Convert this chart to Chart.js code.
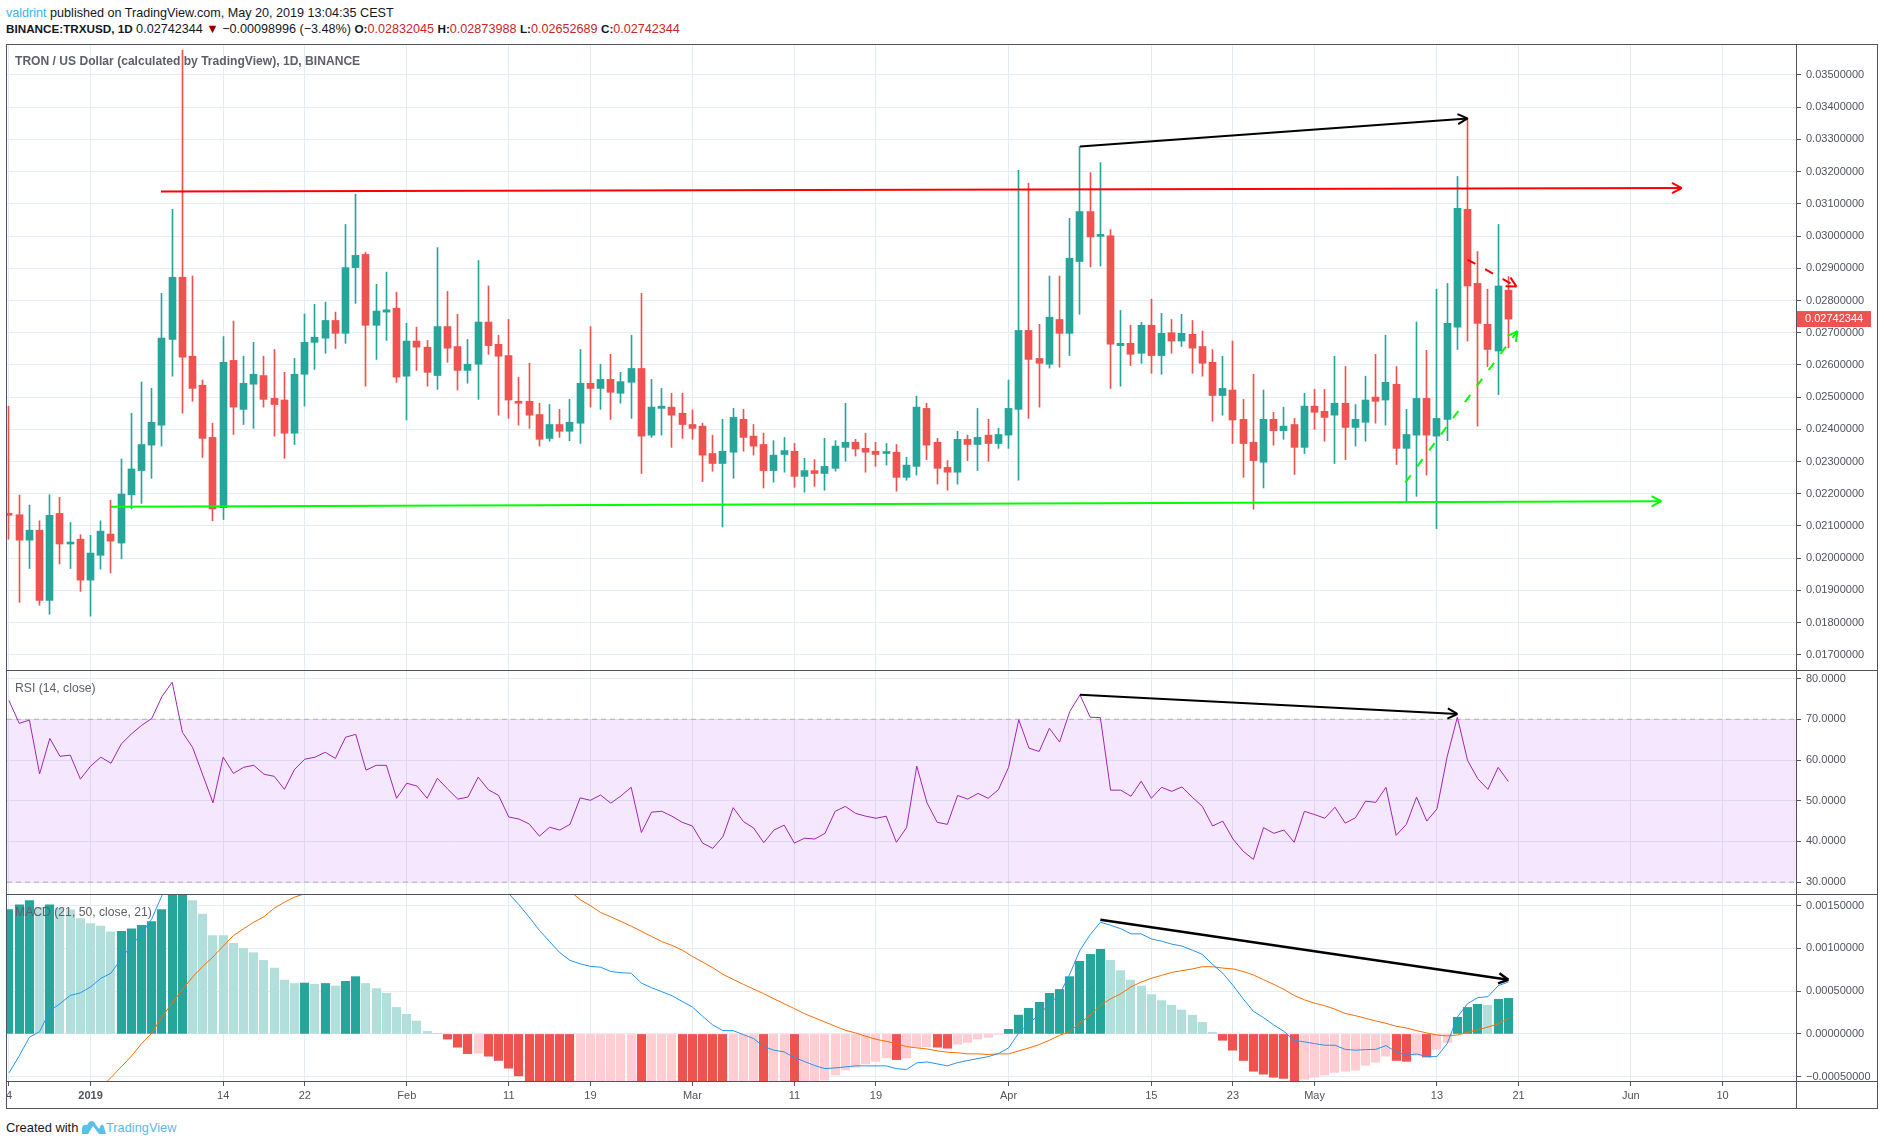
<!DOCTYPE html>
<html>
<head>
<meta charset="utf-8">
<title>TRXUSD</title>
<script src="https://cdn.jsdelivr.net/npm/chart.js"></script>
<style>
    html, body { margin: 0; background: #fff; }
    body { width: 1884px; height: 1145px; position: relative; overflow: hidden; font-family: 'Liberation Sans', Arial, sans-serif; }
    canvas { position: absolute; left: 0; }
    .line { position: absolute; background: #50535e; z-index: 3; }
    .text { position: absolute; white-space: pre; z-index: 4; }
    .head { left: 6px; font-size: 12.6px; color: #131722; }
    .up { color: #c62828; }
    .title { left: 15px; font-size: 12.1px; font-weight: bold; color: #5d606b; }
    .pane-title { left: 15px; font-size: 12.2px; color: #5d606b; }
    b { font-weight: bold; font-size: 11.7px; }
</style>
</head>
<body>
<div class="text head" style="top:6px"><span style="color:#39b4ee">valdrint</span> published on TradingView.com, May 20, 2019 13:04:35 CEST</div>
<div class="text head" style="top:22px"><b>BINANCE:TRXUSD, 1D</b> 0.02742344 <span style="color:#8b0000">▼</span> −0.00098996 (−3.48%) <b>O:</b><span class="up">0.02832045</span> <b>H:</b><span class="up">0.02873988</span> <b>L:</b><span class="up">0.02652689</span> <b>C:</b><span class="up">0.02742344</span></div>
<div class="text title" style="top:54px">TRON / US Dollar (calculated by TradingView), 1D, BINANCE</div>
<div class="text pane-title" style="top:681px">RSI (14, close)</div>
<div class="text pane-title" style="top:905px">MACD (21, 50, close, 21)</div>

<canvas id="priceChart" width="1877" height="625" style="top:45px"></canvas>
<canvas id="rsiChart" width="1877" height="224" style="top:670px"></canvas>
<canvas id="macdChart" width="1877" height="214" style="top:894px"></canvas>

<div class="line" style="left:6px;top:44px;width:1871px;height:1px"></div>
<div class="line" style="left:6px;top:670px;width:1871px;height:1px"></div>
<div class="line" style="left:6px;top:894px;width:1871px;height:1px"></div>
<div class="line" style="left:6px;top:1081px;width:1871px;height:1px"></div>
<div class="line" style="left:6px;top:1108px;width:1871px;height:1px"></div>
<div class="line" style="left:6px;top:44px;width:1px;height:1065px"></div>
<div class="line" style="left:1796px;top:44px;width:1px;height:1065px"></div>
<div class="line" style="left:1877px;top:44px;width:1px;height:1065px"></div>

<div class="text" style="left:6px;top:1120px;font-size:12.9px;color:#131722">Created with</div>
<svg style="position:absolute;left:82px;top:1119px" width="24" height="16" viewBox="0 0 24 16">
    <path d="M0 15 L0 9 Q1 5 5 6 Q7 2 10 2 Q12 2 14 6 L17 10 L19 6 Q21 5 22 8 L24 15 L17 15 L11 7 L6 15 Z" fill="#5bc0e8"/>
</svg>
<div class="text" style="left:106px;top:1120px;font-size:12.8px;color:#5bb9e4">TradingView</div>

<script>
// one candle per day, day 0 is 1 Jan 2019
const firstDay = -8;
const xTickDays = [-8, 0, 13, 21, 31, 41, 49, 59, 69, 77, 90, 104, 112, 120, 132, 140, 151, 160];
const xTickLabels = ['4', '2019', '14', '22', 'Feb', '11', '19', 'Mar', '11', '19', 'Apr', '15', '23', 'May', '13', '21', 'Jun', '10'];

const priceTicks = [0.035, 0.034, 0.033, 0.032, 0.031, 0.03, 0.029, 0.028, 0.027, 0.026, 0.025, 0.024, 0.023, 0.022, 0.021, 0.02, 0.019, 0.018, 0.017];
const rsiTicks = [80, 70, 60, 50, 40, 30];
const macdTicks = [0.0015, 0.001, 0.0005, 0, -0.0005];
const lastClose = 0.02742344;

const opens = [
    0.02138, 0.02135, 0.02056, 0.02087, 0.01869, 0.02139, 0.02044, 0.02059, 0.01932, 0.02009,
    0.02075, 0.02047, 0.02197, 0.02272, 0.02351, 0.02413, 0.02679, 0.02872, 0.02627, 0.02537,
    0.02375, 0.02157, 0.02614, 0.02462, 0.02540, 0.02567, 0.02496, 0.02491, 0.02388, 0.02571,
    0.02670, 0.02683, 0.02738, 0.02698, 0.02902, 0.02943, 0.02723, 0.02764, 0.02776, 0.02565,
    0.02674, 0.02655, 0.02567, 0.02719, 0.02657, 0.02583, 0.02602, 0.02733, 0.02664, 0.02629,
    0.02487, 0.02487, 0.02446, 0.02372, 0.02415, 0.02394, 0.02419, 0.02543, 0.02527, 0.02555,
    0.02512, 0.02546, 0.02589, 0.02382, 0.02465, 0.02469, 0.02450, 0.02415, 0.02410, 0.02325,
    0.02294, 0.02329, 0.02431, 0.02379, 0.02353, 0.02272, 0.02322, 0.02332, 0.02254, 0.02272,
    0.02263, 0.02279, 0.02344, 0.02360, 0.02341, 0.02332, 0.02325, 0.02329, 0.02251, 0.02285,
    0.02465, 0.02360, 0.02282, 0.02267, 0.02369, 0.02353, 0.02382, 0.02356, 0.02382, 0.02462,
    0.02707, 0.02620, 0.02602, 0.02741, 0.02698, 0.02921, 0.03076, 0.02999, 0.03001, 0.02660,
    0.02667, 0.02636, 0.02723, 0.02629, 0.02700, 0.02674, 0.02695, 0.02657, 0.02608, 0.02505,
    0.02522, 0.02431, 0.02360, 0.02298, 0.02431, 0.02396, 0.02415, 0.02344, 0.02472, 0.02456,
    0.02444, 0.02481, 0.02406, 0.02422, 0.02500, 0.02491, 0.02540, 0.02341, 0.02382, 0.02496,
    0.02379, 0.02431, 0.02717, 0.03083, 0.02853, 0.02726, 0.02643, 0.02832045
];
const highs = [
    0.02472, 0.02196, 0.02165, 0.02116, 0.02197, 0.02189, 0.02111, 0.02073, 0.02071, 0.02116,
    0.02180, 0.02308, 0.02450, 0.02547, 0.02527, 0.02822, 0.03083, 0.03577, 0.02876, 0.02553,
    0.02419, 0.02688, 0.02736, 0.02627, 0.02670, 0.02627, 0.02648, 0.02577, 0.02620, 0.02758,
    0.02788, 0.02795, 0.02764, 0.03036, 0.03130, 0.02950, 0.02850, 0.02888, 0.02826, 0.02729,
    0.02717, 0.02676, 0.02964, 0.02828, 0.02757, 0.02679, 0.02924, 0.02845, 0.02692, 0.02741,
    0.02562, 0.02605, 0.02481, 0.02477, 0.02462, 0.02493, 0.02648, 0.02719, 0.02602, 0.02633,
    0.02577, 0.02692, 0.02822, 0.02555, 0.02527, 0.02512, 0.02512, 0.02460, 0.02419, 0.02382,
    0.02431, 0.02465, 0.02462, 0.02415, 0.02388, 0.02365, 0.02375, 0.02356, 0.02310, 0.02306,
    0.02372, 0.02365, 0.02481, 0.02369, 0.02388, 0.02360, 0.02356, 0.02353, 0.02313, 0.02503,
    0.02481, 0.02372, 0.02303, 0.02394, 0.02382, 0.02465, 0.02431, 0.02403, 0.02553, 0.03204,
    0.03164, 0.02726, 0.02876, 0.02876, 0.03055, 0.03278, 0.03197, 0.03228, 0.03020, 0.02769,
    0.02723, 0.02732, 0.02804, 0.02760, 0.02741, 0.02757, 0.02738, 0.02705, 0.02648, 0.02627,
    0.02674, 0.02493, 0.02571, 0.02522, 0.02453, 0.02469, 0.02434, 0.02512, 0.02524, 0.02524,
    0.02627, 0.02595, 0.02477, 0.02565, 0.02633, 0.02692, 0.02595, 0.02462, 0.02733, 0.02645,
    0.02835, 0.02853, 0.03185, 0.03365, 0.02952, 0.02835, 0.03036, 0.02873988
];
const lows = [
    0.02059, 0.01863, 0.01968, 0.01854, 0.01826, 0.01982, 0.01968, 0.01897, 0.01820, 0.01966,
    0.01954, 0.01998, 0.02153, 0.02170, 0.02248, 0.02348, 0.02565, 0.02450, 0.02487, 0.02313,
    0.02116, 0.02120, 0.02384, 0.02415, 0.02403, 0.02469, 0.02379, 0.02310, 0.02353, 0.02472,
    0.02586, 0.02636, 0.02651, 0.02667, 0.02791, 0.02534, 0.02617, 0.02676, 0.02546, 0.02429,
    0.02583, 0.02534, 0.02524, 0.02608, 0.02522, 0.02543, 0.02493, 0.02633, 0.02444, 0.02434,
    0.02413, 0.02403, 0.02348, 0.02363, 0.02375, 0.02365, 0.02356, 0.02469, 0.02462, 0.02431,
    0.02481, 0.02434, 0.02263, 0.02375, 0.02382, 0.02344, 0.02372, 0.02369, 0.02238, 0.02270,
    0.02097, 0.02248, 0.02332, 0.02320, 0.02218, 0.02236, 0.02267, 0.02220, 0.02205, 0.02223,
    0.02211, 0.02270, 0.02301, 0.02317, 0.02267, 0.02285, 0.02289, 0.02208, 0.02242, 0.02258,
    0.02306, 0.02230, 0.02211, 0.02230, 0.02303, 0.02272, 0.02301, 0.02341, 0.02341, 0.02242,
    0.02434, 0.02469, 0.02590, 0.02593, 0.02629, 0.02757, 0.02904, 0.02907, 0.02527, 0.02534,
    0.02598, 0.02605, 0.02574, 0.02571, 0.02636, 0.02657, 0.02574, 0.02565, 0.02425, 0.02444,
    0.02356, 0.02251, 0.02152, 0.02218, 0.02351, 0.02369, 0.02260, 0.02325, 0.02400, 0.02363,
    0.02294, 0.02306, 0.02348, 0.02363, 0.02419, 0.02413, 0.02291, 0.02174, 0.02192, 0.02258,
    0.02092, 0.02365, 0.02648, 0.02674, 0.02410, 0.02595, 0.02508, 0.02652689
];
const closes = [
    0.02133, 0.02056, 0.02087, 0.01869, 0.02133, 0.02044, 0.02049, 0.01932, 0.02016, 0.02084,
    0.02053, 0.02199, 0.02277, 0.02353, 0.02422, 0.02683, 0.02872, 0.02624, 0.02527, 0.02372,
    0.02153, 0.02608, 0.02469, 0.02543, 0.02571, 0.02493, 0.02477, 0.02388, 0.02571, 0.02670,
    0.02686, 0.02738, 0.02698, 0.02902, 0.02940, 0.02723, 0.02767, 0.02771, 0.02562, 0.02674,
    0.02655, 0.02577, 0.02719, 0.02652, 0.02583, 0.02602, 0.02733, 0.02660, 0.02627, 0.02491,
    0.02481, 0.02444, 0.02369, 0.02415, 0.02394, 0.02422, 0.02543, 0.02527, 0.02555, 0.02515,
    0.02548, 0.02589, 0.02379, 0.02469, 0.02472, 0.02444, 0.02415, 0.02403, 0.02320, 0.02294,
    0.02332, 0.02437, 0.02375, 0.02348, 0.02272, 0.02320, 0.02334, 0.02254, 0.02272, 0.02263,
    0.02285, 0.02348, 0.02360, 0.02339, 0.02329, 0.02322, 0.02329, 0.02251, 0.02289, 0.02469,
    0.02351, 0.02279, 0.02267, 0.02369, 0.02353, 0.02375, 0.02356, 0.02384, 0.02465, 0.02707,
    0.02617, 0.02605, 0.02748, 0.02698, 0.02931, 0.03076, 0.02997, 0.03001, 0.02664, 0.02667,
    0.02633, 0.02723, 0.02629, 0.02698, 0.02674, 0.02698, 0.02652, 0.02605, 0.02505, 0.02527,
    0.02429, 0.02356, 0.02303, 0.02431, 0.02396, 0.02410, 0.02344, 0.02472, 0.02453, 0.02437,
    0.02481, 0.02406, 0.02431, 0.02491, 0.02487, 0.02546, 0.02341, 0.02384, 0.02496, 0.02382,
    0.02434, 0.02729, 0.03086, 0.02845, 0.02729, 0.02648, 0.02845, 0.02742344
];

const rsiValues = [
    74.6, 69.0, 69.8, 56.6, 65.3, 60.9, 61.2, 55.3, 58.5, 60.7,
    59.2, 63.9, 66.4, 68.5, 70.2, 75.6, 79.1, 66.8, 63.1, 56.3,
    49.5, 60.7, 56.7, 58.2, 58.7, 56.5, 56.0, 52.8, 57.7, 60.2,
    60.7, 61.9, 60.4, 65.6, 66.3, 57.5, 58.7, 58.7, 50.6, 54.3,
    53.6, 50.6, 55.5, 52.9, 50.4, 50.9, 55.8, 52.7, 51.3, 46.0,
    45.5, 44.3, 41.3, 43.5, 42.8, 44.2, 50.7, 50.1, 51.4, 49.4,
    51.2, 53.3, 42.2, 47.2, 47.4, 46.2, 44.7, 43.8, 39.6, 38.3,
    41.2, 48.3, 44.9, 43.3, 39.7, 42.8, 44.0, 39.6, 40.8, 40.6,
    42.0, 47.4, 48.6, 46.9, 46.2, 45.7, 46.2, 39.8, 43.4, 58.5,
    49.5, 44.7, 44.2, 51.3, 50.4, 51.8, 50.6, 52.7, 58.2, 69.9,
    62.9, 62.1, 67.8, 64.4, 71.9, 76.0, 70.5, 70.4, 52.6, 52.6,
    51.1, 54.8, 50.6, 53.3, 52.3, 53.4, 50.9, 48.6, 43.8, 45.0,
    40.6, 37.6, 35.6, 43.4, 42.0, 42.8, 39.8, 47.4, 46.6, 45.7,
    48.4, 44.5, 45.8, 49.9, 49.6, 53.3, 41.5, 44.2, 50.9, 45.0,
    48.0, 60.8, 70.5, 59.9, 55.4, 52.8, 58.2, 54.7
];
const rsiBands = [70, 30];

const macdHistogram = [
    0.001455, 0.00151, 0.00156, 0.00148, 0.00151, 0.00147, 0.00145, 0.00135, 0.00129, 0.00126,
    0.001195, 0.0012, 0.00123, 0.00127, 0.001315, 0.001455, 0.00165, 0.0017, 0.00156, 0.0014,
    0.00115, 0.00115, 0.00106, 0.001, 0.00095, 0.00086, 0.00077, 0.00063, 0.00059, 0.000595,
    0.00058, 0.00059, 0.00056, 0.000615, 0.00067, 0.00059, 0.00053, 0.000475, 0.00031, 0.00023,
    0.00015, 0.00003, 0.000003, -0.00006, -0.000155, -0.00023, -0.000225, -0.00026, -0.00031, -0.0004,
    -0.00049, -0.00058, -0.00061, -0.00064, -0.00068, -0.00072, -0.00071, -0.0007, -0.00069, -0.00068,
    -0.00067, -0.00066, -0.00068, -0.00067, -0.00066, -0.00065, -0.00066, -0.00067, -0.00068, -0.00069,
    -0.0007, -0.00069, -0.00068, -0.00067, -0.00069, -0.00068, -0.00067, -0.00068, -0.00062, -0.00058,
    -0.00054, -0.00048, -0.00042, -0.00039, -0.00035, -0.00032, -0.00028, -0.0003, -0.00028, -0.000155,
    -0.00015, -0.000155, -0.000167, -0.00012, -0.0001, -0.00006, -0.00004, -0.000005, 0.000054, 0.00022,
    0.0003, 0.00037, 0.000475, 0.00052, 0.00067, 0.00085, 0.00093, 0.00099, 0.00086, 0.00074,
    0.00063, 0.00056, 0.00046, 0.00039, 0.000335, 0.00028, 0.00022, 0.000136, 0.00002, -0.000074,
    -0.00019, -0.00031, -0.000436, -0.00047, -0.000506, -0.00052, -0.00057, -0.00053, -0.000506, -0.00048,
    -0.00045, -0.000436, -0.000424, -0.000366, -0.00033, -0.00026, -0.00031, -0.00032, -0.00025, -0.00027,
    -0.00018, -0.0001, 0.000195, 0.00031, 0.000346, 0.000335, 0.000405, 0.000416
];
const macdLine = [
    -0.000455, -0.000257, -0.000039, 0.000027, 0.000268, 0.000354, 0.00045, 0.00048, 0.00055, 0.00065,
    0.00071, 0.00088, 0.001035, 0.00117, 0.001346, 0.00162, 0.00183, 0.002, 0.00212, 0.00216,
    0.00215, 0.0022, 0.00222, 0.00225, 0.00222, 0.0022, 0.00218, 0.00216, 0.00219, 0.00223,
    0.00226, 0.0023, 0.00233, 0.00242, 0.00252, 0.00252, 0.0025, 0.00247, 0.00236, 0.00232,
    0.00226, 0.00216, 0.00216, 0.00208, 0.002, 0.00192, 0.0019, 0.00184, 0.00176, 0.00164,
    0.00151, 0.001365, 0.00121, 0.00108, 0.00095, 0.00086, 0.00082, 0.00079, 0.00078, 0.00073,
    0.000716, 0.00071, 0.000595, 0.00054, 0.000494, 0.000447, 0.00038, 0.000315, 0.000206, 0.000105,
    0.000039, 0.000039, -0.000008, -0.000054, -0.000148, -0.00019, -0.00021, -0.000276, -0.000323, -0.00037,
    -0.000405, -0.000397, -0.000385, -0.000373, -0.000373, -0.000373, -0.000373, -0.000405, -0.000416, -0.000338,
    -0.000327, -0.00035, -0.000373, -0.000335, -0.00031, -0.000288, -0.000265, -0.00023, -0.000163, 0.000012,
    0.000128, 0.00022, 0.000354, 0.00046, 0.0007, 0.00098, 0.00116, 0.001307, 0.00127, 0.00123,
    0.00117, 0.00117, 0.00111, 0.001085, 0.00105, 0.001027, 0.00098, 0.00093, 0.000813, 0.00071,
    0.000568, 0.00041, 0.000265, 0.00019, 0.000105, 0.00003, -0.000074, -0.000093, -0.000113, -0.000132,
    -0.000132, -0.00018, -0.00019, -0.000183, -0.00018, -0.000136, -0.00021, -0.00025, -0.000233, -0.000265,
    -0.000265, -0.000113, 0.000198, 0.000354, 0.000424, 0.000436, 0.000564, 0.000607
];
const macdSignal = [
    -0.0019, -0.00176, -0.0016, -0.00148, -0.00131, -0.00118, -0.00103, -0.00088, -0.00074, -0.00062,
    -0.00051, -0.000385, -0.00026, -0.000113, 0.00001, 0.0002, 0.00036, 0.00052, 0.000665, 0.00079,
    0.0009, 0.001027, 0.00115, 0.00123, 0.001307, 0.00137, 0.00147, 0.00154, 0.0016, 0.00164,
    0.00168, 0.00171, 0.00177, 0.00181, 0.00185, 0.00193, 0.00197, 0.002, 0.00205, 0.00209,
    0.00211, 0.00213, 0.00215, 0.00214, 0.00215, 0.00214, 0.00212, 0.0021, 0.00207, 0.00205,
    0.002, 0.00195, 0.00188, 0.00182, 0.00176, 0.00167, 0.00157, 0.0015, 0.00142, 0.00137,
    0.001315, 0.00126, 0.0012, 0.00114, 0.00108, 0.001035, 0.00098, 0.000906, 0.00084, 0.000774,
    0.000696, 0.000638, 0.00058, 0.000525, 0.00047, 0.00041, 0.000354, 0.000296, 0.000237, 0.000187,
    0.00014, 0.00009, 0.000043, 0.000012, -0.000027, -0.000062, -0.000086, -0.000113, -0.000148, -0.000163,
    -0.000175, -0.000198, -0.000214, -0.00022, -0.000233, -0.000233, -0.00024, -0.000233, -0.000233, -0.000198,
    -0.000163, -0.000124, -0.000074, -0.000016, 0.00003, 0.000128, 0.000218, 0.000335, 0.00041, 0.00047,
    0.00055, 0.000607, 0.00065, 0.000685, 0.00072, 0.00074, 0.00076, 0.000786, 0.000786, 0.00077,
    0.00076, 0.00073, 0.00069, 0.000634, 0.00058, 0.00052, 0.00045, 0.0004, 0.00036, 0.00033,
    0.00029, 0.00024, 0.000214, 0.000183, 0.000152, 0.000124, 0.00009, 0.00007, 0.000039, 0.000012,
    -0.000012, -0.000023, -0.000012, 0.00002, 0.00005, 0.00008, 0.000117, 0.000183
];

// hand drawn lines on the chart: [day, value] for start and tip
const redLevel = [[6.9, 0.03138], [156, 0.03149]];
const greenLevel = [[2, 0.0216], [154, 0.02177]];
const priceTrend = [[97, 0.03278], [135, 0.03365]];
const redDash = [[135, 0.02927], [139.8, 0.02843]];
const greenDash = [[128.9, 0.02235], [139.9, 0.02705]];
const rsiTrend = [[97, 76], [134, 71.3]];
const macdTrend = [[99, 0.001334], [139, 0.000634]];

const GREEN = '#26a69a';
const RED = '#ef5350';
const GRID = '#e6edf2';
const TEXT = '#50535e';
const X_MIN = -8.196;
const X_MAX = 167.2;
const AXIS_WIDTH = 81;
const FONT = { family: "'Liberation Sans', Arial, sans-serif", size: 11 };

const days = opens.map((_, i) => firstDay + i);
const series = values => values.map((y, i) => ({ x: days[i], y }));
const toPoints = pairs => pairs.map(([x, y]) => ({ x, y }));
const candleColor = opens.map((o, i) => closes[i] >= o ? GREEN : RED);

// dark bar while the histogram moves away from zero, pale when it falls back
const histogramColor = macdHistogram.map((v, i) => {
    const growing = i === 0 || Math.abs(v) > Math.abs(macdHistogram[i - 1]);
    if (v >= 0) return growing ? GREEN : '#b2dfdb';
    return growing ? RED : '#ffcdd2';
});

function drawingLine(pairs, color, extra) {
    return Object.assign({
        type: 'line', data: toPoints(pairs), borderColor: color, borderWidth: 2,
        pointRadius: 0, tension: 0, arrow: true, order: 0
    }, extra);
}

function xAxis(withLabels) {
    return {
        type: 'linear', min: X_MIN, max: X_MAX, offset: false,
        grid: { color: GRID, offset: false, tickColor: '#50535e', tickLength: withLabels ? 5 : 0 },
        border: { display: false },
        ticks: {
            display: withLabels, color: TEXT, padding: 3, autoSkip: false, maxRotation: 0,
            font: ctx => ({ family: FONT.family, size: 11, weight: ctx.index === 1 ? 'bold' : 'normal' }),
            callback: (value, index) => xTickLabels[index]
        },
        afterBuildTicks: scale => { scale.ticks = xTickDays.map(value => ({ value })); },
        afterFit: scale => {
            scale.height = withLabels ? 27 : 0;
            scale.paddingLeft = 0;
            scale.paddingRight = 0;
        }
    };
}

function yAxis(min, max, tickValues, format) {
    return {
        position: 'right', min, max,
        grid: { color: GRID, tickColor: '#50535e', tickLength: 5 },
        border: { display: false },
        ticks: { color: TEXT, font: FONT, padding: 5, autoSkip: false, callback: format },
        afterBuildTicks: scale => { scale.ticks = tickValues.map(value => ({ value })); },
        afterFit: scale => {
            scale.width = AXIS_WIDTH;
            scale.paddingTop = 0;
            scale.paddingBottom = 0;
        }
    };
}

// keeps bars on whole pixels so wicks and gaps stay sharp
const snapBars = {
    id: 'snapBars',
    beforeDatasetsDraw(chart) {
        chart.getSortedVisibleDatasetMetas().filter(m => m.type === 'bar').forEach(meta => {
            meta.data.forEach(bar => { bar.x = Math.floor(bar.x) + 0.5; });
        });
    }
};

const arrowHeads = {
    id: 'arrowHeads',
    afterDatasetsDraw(chart) {
        const { ctx, scales } = chart;
        chart.data.datasets.filter(d => d.arrow).forEach(d => {
            const [a, b] = d.data.slice(-2);
            const tipX = scales.x.getPixelForValue(b.x);
            const tipY = scales.y.getPixelForValue(b.y);
            const angle = Math.atan2(tipY - scales.y.getPixelForValue(a.y), tipX - scales.x.getPixelForValue(a.x));
            ctx.save();
            ctx.strokeStyle = d.borderColor;
            ctx.lineWidth = d.borderWidth;
            ctx.beginPath();
            [-0.48, 0.48].forEach(turn => {
                ctx.moveTo(tipX - 11 * Math.cos(angle + turn), tipY - 11 * Math.sin(angle + turn));
                ctx.lineTo(tipX, tipY);
            });
            ctx.stroke();
            ctx.restore();
        });
    }
};

const lastPriceTag = {
    id: 'lastPriceTag',
    afterDraw(chart) {
        const { ctx, scales, chartArea } = chart;
        const y = scales.y.getPixelForValue(lastClose);
        ctx.save();
        ctx.fillStyle = RED;
        ctx.fillRect(chartArea.right, y - 8, 75, 16);
        ctx.fillStyle = '#fff';
        ctx.font = `${FONT.size}px ${FONT.family}`;
        ctx.textBaseline = 'middle';
        ctx.fillText(lastClose.toFixed(8), chartArea.right + 9, y);
        ctx.restore();
    }
};

function makeChart(id, datasets, xOptions, yOptions, plugins) {
    return new Chart(document.getElementById(id), {
        type: 'bar',
        data: { datasets },
        options: {
            responsive: false,
            animation: false,
            events: [],
            layout: { padding: { left: 7, right: 0, top: 0, bottom: 0 } },
            plugins: { legend: { display: false }, tooltip: { enabled: false } },
            scales: { x: xOptions, y: yOptions }
        },
        plugins: [snapBars, arrowHeads].concat(plugins || [])
    });
}

makeChart('priceChart', [
    drawingLine(redLevel, '#ff0000'),
    drawingLine(greenLevel, '#00ff00'),
    drawingLine(priceTrend, '#000000'),
    drawingLine(redDash, '#ff0000', { borderDash: [9, 11] }),
    drawingLine(greenDash, '#00ff00', { borderDash: [9, 11] }),
    {
        label: 'body', data: days.map((x, i) => ({ x, y: [opens[i], closes[i]] })),
        backgroundColor: candleColor, barThickness: 7, minBarLength: 2, grouped: false, order: 1
    },
    {
        label: 'wick', data: days.map((x, i) => ({ x, y: [lows[i], highs[i]] })),
        backgroundColor: candleColor, barThickness: 1, grouped: false, order: 2
    }
], xAxis(false), yAxis(0.01653, 0.03593, priceTicks, v => v.toFixed(8)), [lastPriceTag]);

makeChart('rsiChart', [
    drawingLine(rsiTrend, '#000000'),
    { type: 'line', label: 'RSI', data: series(rsiValues), borderColor: '#9c27b0', borderWidth: 1, pointRadius: 0, tension: 0, order: 1 },
    {
        type: 'line', label: 'upper', data: toPoints([[X_MIN, rsiBands[0]], [X_MAX, rsiBands[0]]]),
        borderColor: '#b9abbd', borderWidth: 1, borderDash: [5, 4], pointRadius: 0,
        fill: '+1', backgroundColor: 'rgba(145, 5, 245, 0.09)', order: 2
    },
    {
        type: 'line', label: 'lower', data: toPoints([[X_MIN, rsiBands[1]], [X_MAX, rsiBands[1]]]),
        borderColor: '#b9abbd', borderWidth: 1, borderDash: [5, 4], pointRadius: 0, order: 2
    }
], xAxis(false), yAxis(27.1, 82.1, rsiTicks, v => v.toFixed(4)));

makeChart('macdChart', [
    drawingLine(macdTrend, '#000000', { borderWidth: 2.5 }),
    { type: 'line', label: 'MACD', data: series(macdLine), borderColor: '#2196f3', borderWidth: 1, pointRadius: 0, tension: 0, order: 1 },
    { type: 'line', label: 'Signal', data: series(macdSignal), borderColor: '#ff6d00', borderWidth: 1, pointRadius: 0, tension: 0, order: 1 },
    {
        label: 'Histogram', data: series(macdHistogram), backgroundColor: histogramColor,
        barThickness: 8.5, grouped: false, order: 2
    }
], xAxis(true), yAxis(-0.00055, 0.001636, macdTicks, v => (v < 0 ? '−' : '') + Math.abs(v).toFixed(8)));
</script>
</body>
</html>
